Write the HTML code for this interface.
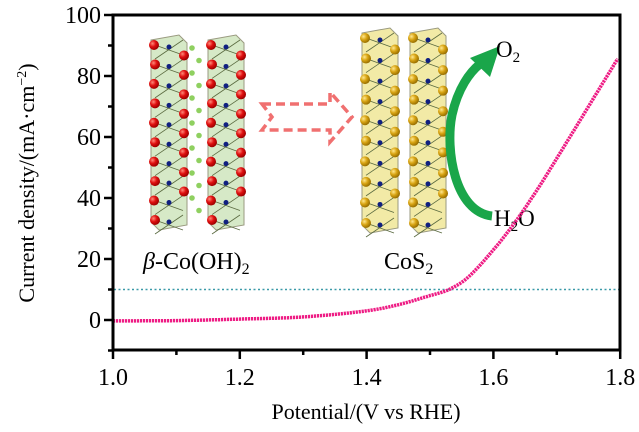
<!DOCTYPE html>
<html><head><meta charset="utf-8"><style>
html,body{margin:0;padding:0;background:#fff;}
svg{display:block;font-family:"Liberation Serif",serif;}
</style></head><body>
<svg id="s" width="639" height="432" viewBox="0 0 639 432" xmlns="http://www.w3.org/2000/svg">
<defs>
<radialGradient id="rb" cx="35%" cy="35%" r="65%"><stop offset="0" stop-color="#ff8a7a"/><stop offset="0.5" stop-color="#e01010"/><stop offset="1" stop-color="#a00000"/></radialGradient>
<radialGradient id="gb" cx="35%" cy="35%" r="65%"><stop offset="0" stop-color="#ffe890"/><stop offset="0.5" stop-color="#d9a514"/><stop offset="1" stop-color="#9a7000"/></radialGradient>
</defs>
<g id="inset"></g>
<path d="M262,104 L330,104 L330,92 L352,117 L330,142 L330,130 L262,130 L272,117 Z" fill="none" stroke="#f07070" stroke-width="3.5" stroke-dasharray="9,5"/>
<path d="M492,216 C455,212 445,150 452,115 C458,88 470,72 480,64" fill="none" stroke="#1aa64a" stroke-width="9"/>
<path d="M470,58 L500,46 L490,77 Z" fill="#1aa64a"/>
<text x="496" y="57" font-size="23">O<tspan font-size="15" dy="5">2</tspan></text>
<text x="494" y="226" font-size="23">H<tspan font-size="15" dy="5">2</tspan><tspan dy="-5">O</tspan></text>
<text x="143" y="269" font-size="24"><tspan font-style="italic">β</tspan>-Co(OH)<tspan font-size="16" dy="5">2</tspan></text>
<text x="384" y="269" font-size="24">CoS<tspan font-size="16" dy="5">2</tspan></text>
<line x1="114" y1="289.5" x2="620" y2="289.5" stroke="#3a9aa8" stroke-width="1.5" stroke-dasharray="2,2.5"/>
<polyline id="curve" fill="none" stroke="#ee1c84" stroke-width="3.5" stroke-dasharray="2.2,0.8"/>
<rect x="113" y="15" width="507" height="335" fill="none" stroke="#000" stroke-width="3"/>
<g stroke="#000" stroke-width="2.5" id="ticks"></g>
<g font-size="24" text-anchor="end" id="yl"></g>
<g font-size="24" text-anchor="middle" id="xl"></g>
<text x="366" y="419" font-size="22" text-anchor="middle">Potential/(V vs RHE)</text>
<text transform="translate(34,183) rotate(-90)" font-size="22" text-anchor="middle">Current density/(mA·cm<tspan font-size="14" dy="-8">−2</tspan><tspan dy="8">)</tspan></text>
</svg>
<script>
var NS="http://www.w3.org/2000/svg";
function el(p,t,a){var e=document.createElementNS(NS,t);for(var k in a)e.setAttribute(k,a[k]);p.appendChild(e);return e;}
var X=function(v){return 113+(v-1)*634.0;}, Y=function(j){return 320-3.05*j;};
var t=document.getElementById('ticks'),yl=document.getElementById('yl'),xl=document.getElementById('xl');
for(var j=-10;j<=100;j+=10){var y=Y(j);el(t,'line',{x1:113,x2:(j%20==0?104:108),y1:y,y2:y});
 if(j%20==0&&j>=0){var tx=el(yl,'text',{x:101,y:y+8});tx.textContent=j;}}
for(var v=1.0;v<=1.801;v+=0.1){var x=X(v);var maj=Math.round(v*10)%2==0;el(t,'line',{x1:x,x2:x,y1:350,y2:maj?359:355});
 if(maj){var tx=el(xl,'text',{x:x,y:385});tx.textContent=v.toFixed(1);}}
var pts=[[1.0,-0.3],[1.1,-0.2],[1.2,0.3],[1.3,1.0],[1.4,3],[1.45,5],[1.5,8],[1.53,10],[1.56,14],[1.6,23],[1.634,32],[1.67,43],[1.7,53],[1.75,70],[1.8,87]];
var s="";for(var v=1.0;v<=1.8;v+=0.004){var i=0;while(i<pts.length-2&&pts[i+1][0]<v)i++;
 var p0=pts[Math.max(i-1,0)],p1=pts[i],p2=pts[i+1],p3=pts[Math.min(i+2,pts.length-1)];var u=(v-p1[0])/(p2[0]-p1[0]);
 var m1=(p2[1]-p0[1])/(p2[0]-p0[0])*(p2[0]-p1[0]),m2=(p3[1]-p1[1])/(p3[0]-p1[0])*(p2[0]-p1[0]);
 var h=(2*u*u*u-3*u*u+1)*p1[1]+(u*u*u-2*u*u+u)*m1+(-2*u*u*u+3*u*u)*p2[1]+(u*u*u-u*u)*m2;
 s+=X(v).toFixed(1)+","+Y(h).toFixed(1)+" ";}
document.getElementById('curve').setAttribute('points',s);
var g=document.getElementById('inset');
function slab(x0,y0,h,fill,ball){
 el(g,'path',{d:"M"+x0+","+(y0+5)+" L"+(x0+28)+","+y0+" L"+(x0+36)+","+(y0+8)+" L"+(x0+36)+","+(y0+h)+" L"+(x0+8)+","+(y0+h+5)+" L"+x0+","+(y0+h-3)+"Z",fill:fill,stroke:"#9a9a80","stroke-width":1});
 for(var k=0;k<10;k++){var y=y0+10+k*(h-15)/9;
  el(g,'line',{x1:x0+4,y1:y,x2:x0+32,y2:y+10,stroke:"#5a6a40","stroke-width":0.8});
  el(g,'line',{x1:x0+32,y1:y-5,x2:x0+4,y2:y+14,stroke:"#5a6a40","stroke-width":0.8});
  el(g,'circle',{cx:x0+3+(k%2),cy:y,r:5,fill:ball});
  el(g,'circle',{cx:x0+18,cy:y+2,r:2.5,fill:"#102080"});
  if(k>0&&k<9)el(g,'circle',{cx:x0+33,cy:y-9,r:5,fill:ball});}
}
slab(151,35,190,"rgba(200,225,180,0.75)","url(#rb)");
slab(208,35,190,"rgba(200,225,180,0.75)","url(#rb)");
for(var k=0;k<14;k++){var y=48+k*12.5;el(g,'circle',{cx:192+(k%2)*7,cy:y,r:2.8,fill:"#8fd060"});}
slab(362,28,200,"rgba(240,230,150,0.85)","url(#gb)");
slab(410,28,200,"rgba(240,230,150,0.85)","url(#gb)");
</script>
</body></html>
